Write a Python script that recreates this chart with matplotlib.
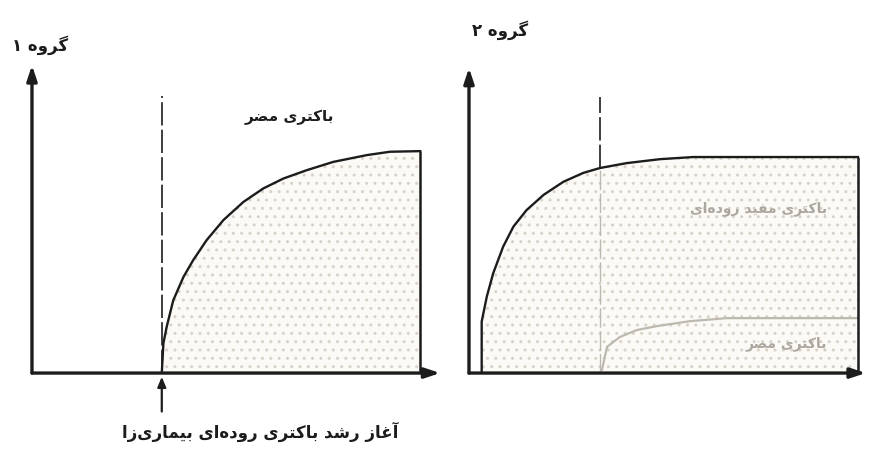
import matplotlib
matplotlib.use("Agg")
import matplotlib.pyplot as plt

# Persian labels (logical order)
group1_label = "گروه ۱"
group2_label = "گروه ۲"
harmful_label = "باکتری مضر"
useful_label = "باکتری مفید روده‌ای"
onset_label = "آغاز رشد باکتری روده‌ای بیماری‌زا"

# group 1: harmful bacteria start growing after onset
g1_onset = 3.18
g1_x = [3.18, 3.22, 3.30, 3.46, 3.71, 3.95, 4.28, 4.69, 5.18, 5.67, 6.16, 6.73,
        7.38, 8.20, 8.77, 9.51]
g1_y = [0.0, 0.97, 1.50, 2.36, 3.12, 3.67, 4.32, 4.97, 5.56, 6.00, 6.32, 6.59,
        6.86, 7.08, 7.19, 7.21]

# group 2: gut bacteria established early, harmful ones stay low
g2_onset = 3.30
g2_x = [0.32, 0.32, 0.45, 0.61, 0.86, 1.12, 1.45, 1.88, 2.38, 2.88, 3.30, 3.97,
        4.81, 5.65, 9.80]
g2_y = [0.0, 1.69, 2.51, 3.27, 4.14, 4.80, 5.34, 5.84, 6.27, 6.56, 6.72, 6.88,
        7.01, 7.08, 7.08]
g2_harm_x = [3.35, 3.48, 3.80, 4.23, 4.74, 5.57, 6.50, 9.80]
g2_harm_y = [0.10, 0.86, 1.18, 1.41, 1.54, 1.70, 1.80, 1.80]

INK = "#1c1c1c"
FAINT = "#bdb9b1"
FILL = "#fcfaf6"

# presentation forms: iso, fin, ini, med (right-joining letters only have iso, fin)
FORMS = {
    "گ": (0xFB92, 0xFB93, 0xFB94, 0xFB95),
    "ک": (0xFB8E, 0xFB8F, 0xFB90, 0xFB91),
    "ی": (0xFBFC, 0xFBFD, 0xFBFE, 0xFBFF),
    "ه": (0xFEE9, 0xFEEA, 0xFEEB, 0xFEEC),
    "ب": (0xFE8F, 0xFE90, 0xFE91, 0xFE92),
    "ت": (0xFE95, 0xFE96, 0xFE97, 0xFE98),
    "م": (0xFEE1, 0xFEE2, 0xFEE3, 0xFEE4),
    "ض": (0xFEBD, 0xFEBE, 0xFEBF, 0xFEC0),
    "غ": (0xFECD, 0xFECE, 0xFECF, 0xFED0),
    "ش": (0xFEB5, 0xFEB6, 0xFEB7, 0xFEB8),
    "ف": (0xFED1, 0xFED2, 0xFED3, 0xFED4),
    "ر": (0xFEAD, 0xFEAE),
    "ز": (0xFEAF, 0xFEB0),
    "و": (0xFEED, 0xFEEE),
    "د": (0xFEA9, 0xFEAA),
    "ا": (0xFE8D, 0xFE8E),
    "آ": (0xFE81, 0xFE82),
}


def shape(text):
    """Join Persian letters by hand and flip to visual order (mpl has no shaping)."""
    out = []
    n = len(text)
    for i, ch in enumerate(text):
        if ch == "\u200c":
            continue
        forms = FORMS.get(ch)
        if forms is None:
            out.append(ch)
            continue
        prev = text[i - 1] if i > 0 else ""
        nxt = text[i + 1] if i + 1 < n else ""
        join_prev = prev in FORMS and len(FORMS[prev]) == 4
        join_next = len(forms) == 4 and nxt in FORMS
        if join_prev and join_next:
            out.append(chr(forms[3]))
        elif join_prev:
            out.append(chr(forms[1]))
        elif join_next:
            out.append(chr(forms[2]))
        else:
            out.append(chr(forms[0]))
    return "".join(reversed(out))


plt.rcParams["font.family"] = ["DejaVu Sans"]

fig = plt.figure(figsize=(8.74, 4.5), dpi=100)
ax1 = fig.add_axes([0.0366, 0.171, 0.467, 0.684])
ax2 = fig.add_axes([0.5366, 0.171, 0.454, 0.678])

DASH = (0, (14, 2.5))


def draw_axes(ax):
    ax.set_xlim(0, 10)
    ax.set_ylim(0, 10)
    ax.axis("off")
    arrow = dict(arrowstyle="-|>,head_length=0.9,head_width=0.3", lw=2.4,
                 color=INK, shrinkA=0, shrinkB=0)
    ax.annotate("", xy=(0, 10), xytext=(0, 0), arrowprops=arrow, annotation_clip=False)
    ax.annotate("", xy=(10, 0), xytext=(0, 0), arrowprops=arrow, annotation_clip=False)


# group 1
draw_axes(ax1)
ax1.fill_between(g1_x, g1_y, 0, facecolor=FILL, edgecolor="#d9d2c7",
                 hatch="..", linewidth=0)
ax1.plot(g1_x, g1_y, color=INK, lw=1.7, solid_joinstyle="round")
ax1.vlines(g1_x[-1], 0, g1_y[-1], color=INK, lw=1.8)
ax1.vlines(g1_onset, 0, 9.0, color=INK, lw=1.2, linestyles=DASH)
ax1.text(-0.49, 10.65, shape(group1_label), fontsize=12, fontweight="bold",
         ha="left", va="center", color=INK)
ax1.text(6.3, 8.3, shape(harmful_label), fontsize=11, fontweight="bold",
         ha="center", va="center", color=INK)
ax1.annotate("", xy=(g1_onset, -0.12), xytext=(g1_onset, -1.25),
             arrowprops=dict(arrowstyle="-|>,head_length=0.6,head_width=0.25",
                             lw=1.6, color=INK, shrinkA=0, shrinkB=0),
             annotation_clip=False)
ax1.text(5.6, -1.9, shape(onset_label), fontsize=12, fontweight="bold",
         ha="center", va="center", color=INK)

# group 2
draw_axes(ax2)
ax2.fill_between(g2_x, g2_y, 0, facecolor=FILL, edgecolor="#d9d2c7",
                 hatch="..", linewidth=0)
ax2.plot(g2_harm_x, g2_harm_y, color=FAINT, lw=1.6, solid_joinstyle="round")
ax2.plot(g2_x, g2_y, color=INK, lw=1.7, solid_joinstyle="round")
ax2.vlines(g2_x[-1], 0, g2_y[-1], color=INK, lw=1.8)
ax2.vlines(g2_onset, 6.72, 9.05, color=INK, lw=1.2, linestyles=DASH)
ax2.vlines(g2_onset, 0, 6.72, color=FAINT, lw=1.0, linestyles=DASH)
ax2.text(0.78, 11.25, shape(group2_label), fontsize=12, fontweight="bold",
         ha="center", va="center", color=INK)
ax2.text(7.3, 5.4, shape(useful_label), fontsize=10, fontweight="bold",
         ha="center", va="center", color="#aba79f")
ax2.text(8.0, 0.95, shape(harmful_label), fontsize=10, fontweight="bold",
         ha="center", va="center", color="#aba79f")

fig.savefig("out.png", dpi=100, facecolor="white")
